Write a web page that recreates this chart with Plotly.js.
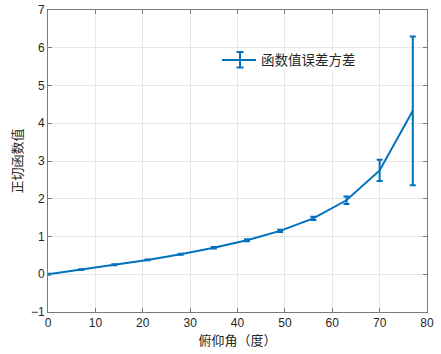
<!DOCTYPE html>
<html>
<head>
<meta charset="utf-8">
<script src="https://cdn.plot.ly/plotly-3.0.1.min.js"></script>
<style>html,body{margin:0;padding:0;background:#fff;}#chart{width:441px;height:354px;}</style>
</head>
<body>
<div id="chart"></div>
<script>
const angles = [0, 7, 14, 21, 28, 35, 42, 49, 56, 63, 70, 77];
const tanValues = [0, 0.12, 0.25, 0.38, 0.53, 0.70, 0.90, 1.15, 1.48, 1.96, 2.75, 4.33];
const errorValues = [0.01, 0.01, 0.012, 0.012, 0.015, 0.02, 0.025, 0.03, 0.045, 0.10, 0.28, 1.97];
const xTicks = [0, 10, 20, 30, 40, 50, 60, 70, 80];
const yTicks = [-1, 0, 1, 2, 3, 4, 5, 6, 7];

const blue = '#0072BD';
const font = 'Liberation Sans, Arial, sans-serif';
const cjk = 'Noto Sans CJK SC, sans-serif';

const trace = {
  x: angles, y: tanValues, type: 'scatter', mode: 'lines',
  name: '函数值误差方差',
  line: {color: blue, width: 2},
  error_y: {type: 'data', array: errorValues, visible: true, color: blue, thickness: 2, width: 3}
};

const axisCommon = {
  showline: true, mirror: 'ticks', linecolor: '#7a7a7a', linewidth: 1,
  ticks: 'inside', ticklen: 4, tickcolor: '#7a7a7a',
  showgrid: true, gridcolor: '#e6e6e6', gridwidth: 1, zeroline: false,
  tickfont: {family: font, size: 12, color: '#262626'}
};

// legend background box and error-bar glyph (pixel -> paper helpers)
const L = 48, R = 14, T = 10, B = 42, W = 441, H = 354;
const px = v => (v - L) / (W - L - R);
const py = v => (H - B - v) / (H - T - B);
const gx = 240, gTop = 52, gBot = 67.5, gHalf = 3.5;
const legendBox = {type: 'rect', xref: 'paper', yref: 'paper', layer: 'above',
  x0: px(214), x1: px(362), y0: py(51), y1: py(70),
  fillcolor: '#fff', line: {width: 0}};
const glyph = [
  {x0: px(gx), x1: px(gx), y0: py(gTop), y1: py(gBot)},
  {x0: px(gx - gHalf), x1: px(gx + gHalf), y0: py(gTop), y1: py(gTop)},
  {x0: px(gx - gHalf), x1: px(gx + gHalf), y0: py(gBot), y1: py(gBot)}
].map(s => Object.assign({type: 'line', xref: 'paper', yref: 'paper', layer: 'above',
  line: {color: blue, width: 2}}, s));

const layout = {
  width: W, height: H,
  margin: {l: L, r: R, t: T, b: B},
  paper_bgcolor: '#fff', plot_bgcolor: '#fff',
  showlegend: true,
  legend: {x: 0.446, y: 0.834, xanchor: 'left', yanchor: 'middle', itemwidth: 34,
    bgcolor: 'rgba(255,255,255,0)', borderwidth: 0,
    font: {family: cjk, size: 13.5, color: '#262626'}},
  shapes: [legendBox].concat(glyph),
  xaxis: Object.assign({}, axisCommon, {range: [0, 80], tickvals: xTicks,
    title: {text: '俯仰角（度）', font: {family: cjk, size: 13, color: '#262626'}, standoff: 4}}),
  yaxis: Object.assign({}, axisCommon, {range: [-1, 7], tickvals: yTicks,
    title: {text: '正切函数值', font: {family: cjk, size: 13, color: '#262626'}, standoff: 5}})
};

Plotly.newPlot('chart', [trace], layout, {displayModeBar: false, staticPlot: true});
</script>
</body>
</html>
